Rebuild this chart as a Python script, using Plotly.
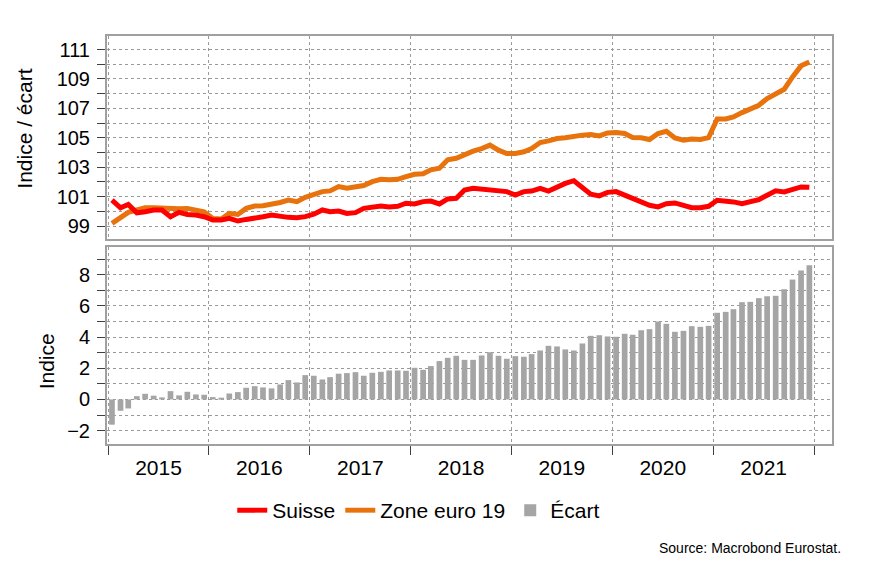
import plotly.graph_objects as go

# Monthly dates (mid-month), Jan 2015 - Dec 2021
dates = [f"{y}-{m:02d}-15" for y in range(2015, 2022) for m in range(1, 13)]

suisse = [
    100.76, 100.24, 100.47, 99.90, 99.97, 100.09, 100.09, 99.63, 99.93, 99.79, 99.75, 99.63,
    99.41, 99.41, 99.52, 99.34, 99.45, 99.52, 99.63, 99.75, 99.63, 99.59, 99.57, 99.64,
    99.80, 100.09, 99.98, 100.02, 99.86, 99.91, 100.20, 100.27, 100.36, 100.30, 100.34, 100.55,
    100.50, 100.66, 100.70, 100.50, 100.84, 100.89, 101.45, 101.56, 101.50, 101.45, 101.38, 101.34,
    101.11, 101.34, 101.38, 101.56, 101.38, 101.68, 101.90, 102.08, 101.56, 101.16, 101.05, 101.29,
    101.34, 101.11, 100.93, 100.62, 100.41, 100.30, 100.52, 100.57, 100.41, 100.25, 100.25, 100.34,
    100.75, 100.70, 100.64, 100.52, 100.70, 100.80, 101.09, 101.39, 101.32, 101.52, 101.66, 101.63,
]

zone_euro = [
    99.18, 99.63, 99.93, 100.09, 100.24, 100.24, 100.20, 100.18, 100.18, 100.20, 100.09, 99.97,
    99.52, 99.48, 99.86, 99.79, 100.20, 100.36, 100.38, 100.45, 100.60, 100.77, 100.66, 100.95,
    101.16, 101.34, 101.39, 101.68, 101.57, 101.68, 101.75, 102.02, 102.18, 102.14, 102.18, 102.36,
    102.52, 102.55, 102.82, 102.93, 103.50, 103.61, 103.89, 104.09, 104.27, 104.50, 104.16, 103.93,
    103.93, 104.05, 104.27, 104.68, 104.79, 104.95, 105.00, 105.13, 105.18, 105.22, 105.13, 105.33,
    105.36, 105.29, 105.02, 105.00, 104.88, 105.29, 105.44, 104.99, 104.83, 104.92, 104.88, 105.01,
    106.28, 106.28, 106.42, 106.71, 106.94, 107.21, 107.67, 108.00, 108.30, 109.14, 109.89, 110.16,
]

ecart = [
    -1.62, -0.73, -0.58, 0.21, 0.36, 0.24, 0.13, 0.53, 0.26, 0.49, 0.32, 0.30,
    0.15, 0.09, 0.38, 0.47, 0.75, 0.85, 0.77, 0.71, 0.96, 1.24, 1.09, 1.56,
    1.52, 1.28, 1.43, 1.65, 1.69, 1.75, 1.52, 1.71, 1.77, 1.86, 1.86, 1.84,
    2.03, 1.90, 2.14, 2.46, 2.67, 2.80, 2.54, 2.54, 2.82, 3.03, 2.80, 2.61,
    2.78, 2.74, 2.91, 3.14, 3.44, 3.40, 3.21, 3.14, 3.59, 4.08, 4.12, 4.04,
    4.02, 4.21, 4.15, 4.44, 4.51, 5.00, 4.85, 4.34, 4.40, 4.70, 4.66, 4.72,
    5.56, 5.62, 5.79, 6.24, 6.26, 6.50, 6.62, 6.65, 7.07, 7.69, 8.27, 8.61,
]

RED = "#FF0000"
ORANGE = "#E8720C"
GREY = "#A5A5A5"
FRAME = "#A0A0A0"
GRID = "#9A9A9A"
FONT = "Liberation Sans, Arial, sans-serif"

fig = go.Figure()
fig.add_trace(go.Scatter(x=dates, y=zone_euro, name="Zone euro 19", mode="lines",
                         line=dict(color=ORANGE, width=5), xaxis="x", yaxis="y", legendrank=2))
fig.add_trace(go.Scatter(x=dates, y=suisse, name="Suisse", mode="lines",
                         line=dict(color=RED, width=5), xaxis="x", yaxis="y", legendrank=1))
fig.add_trace(go.Bar(x=dates, y=ecart, name="Écart", marker=dict(color=GREY, line=dict(width=0)),
                     width=1.78e9, xaxis="x2", yaxis="y2", legendrank=3))

xcommon = dict(type="date", range=["2014-12-28", "2022-03-07"], tick0="2015-01-01", dtick="M12",
               showgrid=True, griddash="dot", gridcolor=GRID, gridwidth=1,
               showline=True, mirror=True, linecolor=FRAME, linewidth=2, zeroline=False)
ycommon = dict(showgrid=True, griddash="dot", gridcolor=GRID, gridwidth=1, zeroline=False,
               showline=True, mirror=True, linecolor=FRAME, linewidth=2,
               ticks="outside", ticklen=8, tickcolor="#404040", tickwidth=1,
               tickfont=dict(family=FONT, size=20, color="black"), ticklabelstandoff=3)

fig.update_layout(
    width=869, height=583,
    margin=dict(l=107, r=37, t=36, b=139),
    paper_bgcolor="white", plot_bgcolor="white",
    font=dict(family=FONT, color="black"),
    bargap=0.3,
    xaxis=dict(**xcommon, domain=[0, 1], anchor="y", showticklabels=False, ticks=""),
    yaxis=dict(**ycommon, domain=[0.5025, 1], range=[98.12, 111.92], tick0=99, dtick=2,
               minor=dict(tick0=99, dtick=1, ticks="outside", ticklen=8, tickcolor="#404040",
                          showgrid=True, griddash="dot", gridcolor=GRID)),
    xaxis2=dict(**xcommon, domain=[0, 1], anchor="y2", ticks="outside", ticklen=9,
                tickcolor="#404040", ticklabelmode="period", tickformat="%Y",
                tickfont=dict(family=FONT, size=21, color="black"), ticklabelstandoff=-5),
    yaxis2=dict(**ycommon, domain=[0, 0.4836], range=[-2.86, 9.8], tick0=0, dtick=2,
                minor=dict(tick0=0, dtick=1, ticks="outside", ticklen=8, tickcolor="#404040",
                           showgrid=True, griddash="dot", gridcolor=GRID)),
    legend=dict(orientation="h", x=0.43, xanchor="center", y=-0.163, yanchor="middle",
                font=dict(family=FONT, size=21, color="black"), bgcolor="rgba(0,0,0,0)"),
    showlegend=True,
)

fig.add_annotation(text="Indice / écart", textangle=-90, xref="paper", yref="paper",
                   x=-0.1138, y=0.774, xanchor="center", yanchor="middle", showarrow=False,
                   font=dict(family=FONT, size=21, color="black"))
fig.add_annotation(text="Indice", textangle=-90, xref="paper", yref="paper",
                   x=-0.0834, y=0.2014, xanchor="center", yanchor="middle", showarrow=False,
                   font=dict(family=FONT, size=21, color="black"))
fig.add_annotation(text="Source: Macrobond Eurostat.", xref="paper", yref="paper",
                   x=1.0152, y=-0.256, xanchor="right", yanchor="middle", showarrow=False,
                   font=dict(family=FONT, size=14, color="black"))

fig.write_html("out.html")
